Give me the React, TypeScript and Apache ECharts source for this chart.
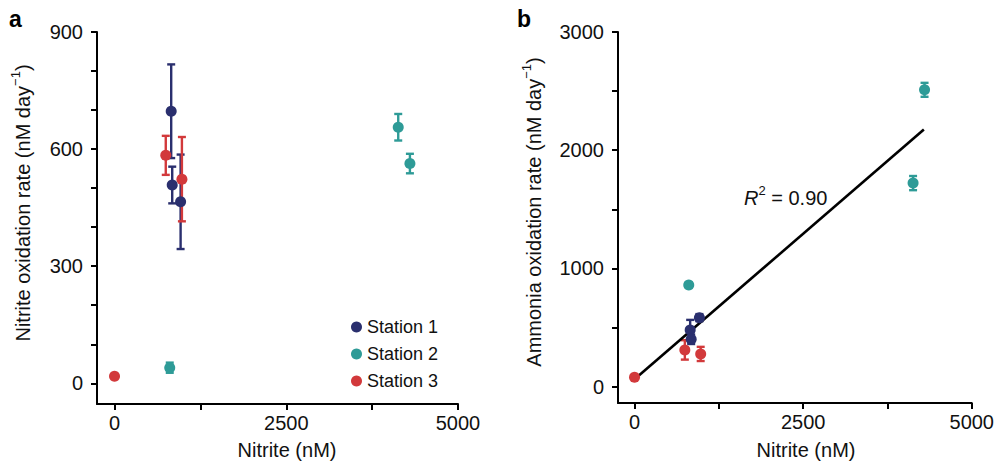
import React, { useEffect, useRef } from "react";
import * as echarts from "echarts";

// Shared nitrite concentrations (nM) per station
const station1X = [825, 840, 962];
const station2X = [804, 4130, 4300];
const station3X = [0, 746, 981];

// Panel a: nitrite oxidation rate (nM day-1) and error
const station1NOR = [697, 508, 465];
const station1NORErr = [120, 47, 121];
const station2NOR = [40, 656, 563];
const station2NORErr = [13, 34, 25];
const station3NOR = [18, 584, 523];
const station3NORErr = [0, 50, 108];

// Panel b: ammonia oxidation rate (nM day-1) and error
const station1AOR = [480, 401, 584];
const station1AORErr = [85, 40, 30];
const station2AOR = [861, 1722, 2511];
const station2AORErr = [20, 60, 59];
const station3AOR = [80, 311, 277];
const station3AORErr = [0, 82, 60];

// Regression line endpoints (panel b)
const fitX = [0, 4290];
const fitY = [62, 2175];

const stationNames = ["Station 1", "Station 2", "Station 3"];
const stationColors = ["#2a2f6e", "#2e9b97", "#d2393b"];

const xTicks = [0, 1250, 2500, 3750, 5000];
const xLabels = [0, 2500, 5000];
const yTicksA = [0, 100, 200, 300, 400, 500, 600, 700, 800, 900];
const yLabelsA = [0, 300, 600, 900];
const yTicksB = [0, 500, 1000, 1500, 2000, 2500, 3000];
const yLabelsB = [0, 1000, 2000, 3000];

const FONT = "Liberation Sans, Arial, Helvetica, sans-serif";
const INK = "#111";

function pts(xs: number[], ys: number[]) {
  return xs.map((x, i) => [x, ys[i]]);
}
function errs(xs: number[], ys: number[], es: number[]) {
  return xs
    .map((x, i) => [x, ys[i] - es[i], ys[i] + es[i], es[i]])
    .filter((d) => d[3] > 0);
}

function errorRender(color: string) {
  return (params: any, api: any) => {
    const x = api.value(0);
    const lo = api.coord([x, api.value(1)]);
    const hi = api.coord([x, api.value(2)]);
    const hw = 4;
    const style = { stroke: color, lineWidth: 2.4 };
    return {
      type: "group",
      children: [
        { type: "line", shape: { x1: lo[0], y1: lo[1], x2: hi[0], y2: hi[1] }, style },
        { type: "line", shape: { x1: lo[0] - hw, y1: lo[1], x2: lo[0] + hw, y2: lo[1] }, style },
        { type: "line", shape: { x1: hi[0] - hw, y1: hi[1], x2: hi[0] + hw, y2: hi[1] }, style },
      ],
    };
  };
}

const fmt = (v: number) => String(v);

function xAxisCfg(gridIndex: number, min: number) {
  return {
    gridIndex,
    type: "value",
    min,
    max: 5000,
    axisLine: { show: true, onZero: false, lineStyle: { color: "#000", width: 2 } },
    axisTick: { show: true, customValues: xTicks, length: 6, lineStyle: { color: "#000", width: 2 } },
    axisLabel: { customValues: xLabels, formatter: fmt, fontSize: 20, color: INK, fontFamily: FONT, margin: 9 },
    splitLine: { show: false },
  };
}
function yAxisCfg(gridIndex: number, min: number, max: number, ticks: number[], labels: number[]) {
  return {
    gridIndex,
    type: "value",
    min,
    max,
    axisLine: { show: true, onZero: false, lineStyle: { color: "#000", width: 2 } },
    axisTick: { show: true, customValues: ticks, length: 6, lineStyle: { color: "#000", width: 2 } },
    axisLabel: { customValues: labels, formatter: fmt, fontSize: 20, color: INK, fontFamily: FONT, margin: 14 },
    splitLine: { show: false },
  };
}

function titleRich() {
  return {
    n: { fontSize: 20, fontFamily: FONT, fill: INK, lineHeight: 24, verticalAlign: "bottom" },
    s: { fontSize: 13, fontFamily: FONT, fill: INK, lineHeight: 24, verticalAlign: "top", padding: [0, 0, 9, 0] },
  };
}

export default function App() {
  const ref = useRef<HTMLDivElement>(null);
  useEffect(() => {
    if (!ref.current) return;
    const chart = echarts.init(ref.current, undefined, { renderer: "svg" });
    const xsAll = [station1X, station2X, station3X];
    const norAll = [station1NOR, station2NOR, station3NOR];
    const norErrAll = [station1NORErr, station2NORErr, station3NORErr];
    const aorAll = [station1AOR, station2AOR, station3AOR];
    const aorErrAll = [station1AORErr, station2AORErr, station3AORErr];

    const series: any[] = [];
    [0, 1, 2].forEach((i) => {
      series.push({
        type: "custom",
        name: stationNames[i] + " err a",
        xAxisIndex: 0,
        yAxisIndex: 0,
        renderItem: errorRender(stationColors[i]),
        data: errs(xsAll[i], norAll[i], norErrAll[i]),
        encode: { x: 0, y: [1, 2] },
        z: 2,
      });
      series.push({
        type: "custom",
        name: stationNames[i] + " err b",
        xAxisIndex: 1,
        yAxisIndex: 1,
        renderItem: errorRender(stationColors[i]),
        data: errs(xsAll[i], aorAll[i], aorErrAll[i]),
        encode: { x: 0, y: [1, 2] },
        z: 2,
      });
    });
    series.push({
      type: "line",
      name: "fit",
      xAxisIndex: 1,
      yAxisIndex: 1,
      data: pts(fitX, fitY),
      showSymbol: false,
      symbol: "none",
      lineStyle: { color: "#000", width: 2.6 },
      z: 3,
    });
    [0, 1, 2].forEach((i) => {
      series.push({
        type: "scatter",
        name: stationNames[i],
        xAxisIndex: 0,
        yAxisIndex: 0,
        data: pts(xsAll[i], norAll[i]),
        symbol: "circle",
        symbolSize: 11,
        itemStyle: { color: stationColors[i], opacity: 1 },
        z: 4,
      });
      series.push({
        type: "scatter",
        name: stationNames[i],
        xAxisIndex: 1,
        yAxisIndex: 1,
        data: pts(xsAll[i], aorAll[i]),
        symbol: "circle",
        symbolSize: 11,
        itemStyle: { color: stationColors[i], opacity: 1 },
        z: 4,
      });
    });

    chart.setOption({
      animation: false,
      backgroundColor: "#fff",
      grid: [
        { left: 97, top: 32, width: 361, height: 372 },
        { left: 618, top: 32, width: 360, height: 371 },
      ],
      xAxis: [xAxisCfg(0, -255), xAxisCfg(1, -245)],
      yAxis: [
        yAxisCfg(0, -53, 900, yTicksA, yLabelsA),
        yAxisCfg(1, -138, 3000, yTicksB, yLabelsB),
      ],
      legend: {
        data: stationNames,
        orient: "vertical",
        left: 346,
        top: 313,
        icon: "circle",
        itemWidth: 11,
        itemHeight: 11,
        itemGap: 9,
        selectedMode: false,
        textStyle: { fontSize: 18, color: INK, fontFamily: FONT, lineHeight: 18 },
      },
      graphic: [
        { type: "text", left: 9, top: 7, style: { text: "a", font: `bold 23px ${FONT}`, fill: "#000" } },
        { type: "text", left: 517, top: 7, style: { text: "b", font: `bold 23px ${FONT}`, fill: "#000" } },
        {
          type: "text",
          x: 287,
          y: 450,
          style: { text: "Nitrite (nM)", font: `20px ${FONT}`, fill: INK, align: "center", verticalAlign: "middle" },
        },
        {
          type: "text",
          x: 806,
          y: 450,
          style: { text: "Nitrite (nM)", font: `20px ${FONT}`, fill: INK, align: "center", verticalAlign: "middle" },
        },
        {
          type: "text",
          x: 21,
          y: 203,
          rotation: Math.PI / 2,
          style: {
            text: "{n|Nitrite oxidation rate (nM day}{s|−1}{n|)}",
            align: "center",
            verticalAlign: "middle",
            fill: INK,
            rich: titleRich(),
          },
        },
        {
          type: "text",
          x: 532,
          y: 212,
          rotation: Math.PI / 2,
          style: {
            text: "{n|Ammonia oxidation rate (nM day}{s|−1}{n|)}",
            align: "center",
            verticalAlign: "middle",
            fill: INK,
            rich: titleRich(),
          },
        },
        {
          type: "text",
          x: 744,
          y: 196,
          style: {
            text: "{i|R}{s|2}{n| = 0.90}",
            align: "left",
            verticalAlign: "middle",
            rich: {
              i: { fontSize: 20, fontFamily: FONT, fontStyle: "italic", fill: INK, lineHeight: 24, verticalAlign: "bottom" },
              s: { fontSize: 13, fontFamily: FONT, fill: INK, lineHeight: 24, verticalAlign: "top", padding: [0, 0, 9, 0] },
              n: { fontSize: 20, fontFamily: FONT, fill: INK, lineHeight: 24, verticalAlign: "bottom" },
            },
          },
        },
      ],
      series,
    });
    return () => chart.dispose();
  }, []);
  return (
    <div
      ref={ref}
      style={{ position: "fixed", left: 0, top: 0, width: 997, height: 466, background: "#fff" }}
    />
  );
}
